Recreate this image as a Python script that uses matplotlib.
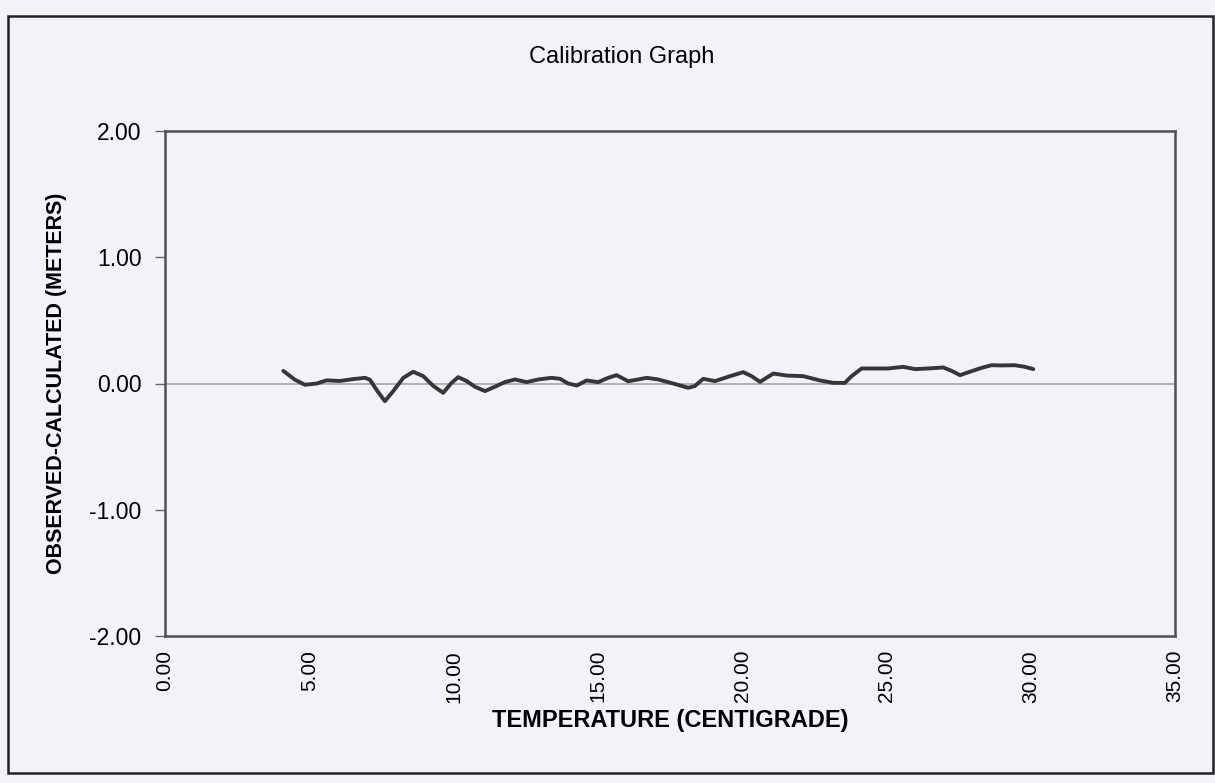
import numpy as np
import matplotlib.pyplot as plt
from matplotlib.patches import Rectangle

temperature = [4.10, 4.50, 4.85, 5.26, 5.60, 6.06, 6.53, 6.93, 7.10, 7.33, 7.62, 7.91,
               8.26, 8.60, 8.95, 9.30, 9.64, 9.93, 10.16, 10.45, 10.74, 11.09, 11.43,
               11.78, 12.13, 12.53, 12.94, 13.40, 13.69, 13.97, 14.27, 14.61, 15.01,
               15.36, 15.65, 16.05, 16.40, 16.69, 17.09, 17.61, 18.13, 18.36, 18.65,
               19.06, 19.58, 20.04, 20.33, 20.62, 21.08, 21.54, 22.12, 22.70, 23.16,
               23.56, 23.79, 24.14, 24.60, 25.06, 25.58, 25.99, 26.45, 26.97, 27.26,
               27.55, 27.89, 28.30, 28.64, 28.99, 29.45, 29.80, 30.09]
residual = [0.100, 0.030, -0.010, 0.000, 0.025, 0.020, 0.035, 0.045, 0.030, -0.050, -0.140,
            -0.060, 0.045, 0.093, 0.058, -0.020, -0.074, 0.005, 0.050, 0.020, -0.026,
            -0.060, -0.026, 0.011, 0.032, 0.011, 0.032, 0.045, 0.037, 0.000, -0.016,
            0.024, 0.011, 0.045, 0.066, 0.018, 0.032, 0.045, 0.032, 0.000, -0.034,
            -0.020, 0.037, 0.019, 0.058, 0.090, 0.058, 0.013, 0.079, 0.063, 0.058,
            0.024, 0.005, 0.005, 0.058, 0.119, 0.119, 0.119, 0.132, 0.114, 0.119,
            0.127, 0.100, 0.066, 0.093, 0.124, 0.145, 0.143, 0.145, 0.132, 0.114]

x_ticks = [0, 5, 10, 15, 20, 25, 30, 35]
y_ticks = [-2, -1, 0, 1, 2]

bg = "#f2f3f9"
plt.rcParams['font.family'] = ['Liberation Sans', 'DejaVu Sans']

fig = plt.figure(figsize=(12.15, 7.83), dpi=100, facecolor=bg)
ax = fig.add_axes([165 / 1215, 1 - 636 / 783, (1175 - 165) / 1215, (636 - 131) / 783])
ax.set_facecolor(bg)

# Nulllinie
ax.axhline(0, color="#a0a0a0", linewidth=1.1, zorder=1)
ax.plot(temperature, residual, color="#363636", linewidth=2.8, zorder=2,
        solid_joinstyle="round", solid_capstyle="round")

ax.set_xlim(0, 35)
ax.set_ylim(-2, 2)
ax.set_xticks(x_ticks)
ax.set_xticklabels([f"{v:.2f}" for v in x_ticks], rotation=90, fontsize=15)
ax.set_yticks(y_ticks)
ax.set_yticklabels([f"{v:.2f}" for v in y_ticks], fontsize=16.5)
ax.tick_params(axis="x", length=0, pad=10)
ax.tick_params(axis="y", length=7, width=1, color="#666666", pad=10)

for s in ax.spines.values():
    s.set_color("#505050")
    s.set_linewidth(1.8)

ax.set_xlabel("TEMPERATURE (CENTIGRADE)", fontsize=17, fontweight="bold", labelpad=5)
ax.set_ylabel("OBSERVED-CALCULATED (METERS)", fontsize=15.5, fontweight="bold", labelpad=16)
fig.text(622 / 1215, 1 - 57 / 783, "Calibration Graph", ha="center", va="center", fontsize=17)

# Rahmen um die Grafik
fig.patches.append(Rectangle((8 / 1215, 1 - 773 / 783), 1205 / 1215, 757 / 783,
                             transform=fig.transFigure, fill=False,
                             edgecolor="#222222", linewidth=1.8))

fig.savefig("out.png", dpi=100, facecolor=bg)
